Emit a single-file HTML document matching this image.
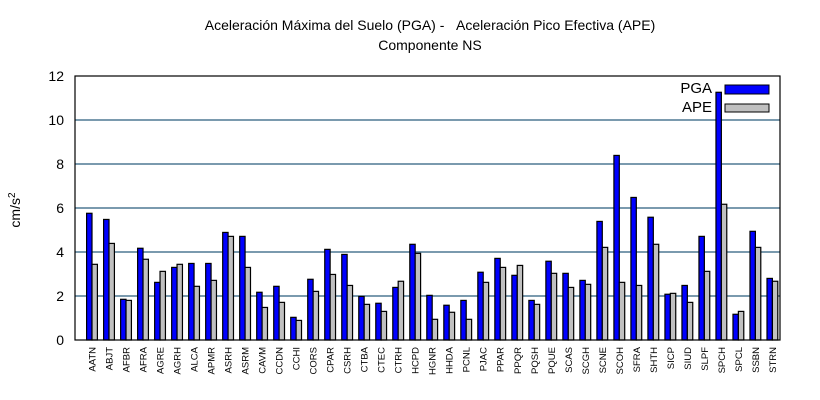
<!DOCTYPE html>
<html><head><meta charset="utf-8"><style>body{margin:0;background:#fff}svg{display:block}</style></head><body>
<svg width="820" height="400" xmlns="http://www.w3.org/2000/svg" font-family="Liberation Sans, sans-serif">
<rect width="820" height="400" fill="#fff"/>
<text x="430" y="30" font-size="14" text-anchor="middle">Aceleración Máxima del Suelo (PGA) - &#160;&#160;Aceleración Pico Efectiva (APE)</text>
<text x="430" y="50" font-size="14" text-anchor="middle">Componente NS</text>
<g stroke="#2b5d7d" stroke-width="1.3">
<line x1="75" x2="780" y1="296" y2="296"/><line x1="75" x2="780" y1="252" y2="252"/><line x1="75" x2="780" y1="208" y2="208"/><line x1="75" x2="780" y1="164" y2="164"/><line x1="75" x2="780" y1="120" y2="120"/>
</g>
<g font-size="14" text-anchor="end">
<text x="64" y="345">0</text><text x="64" y="301">2</text><text x="64" y="257">4</text><text x="64" y="213">6</text><text x="64" y="169">8</text><text x="64" y="125">10</text><text x="64" y="81">12</text>
</g>
<text transform="translate(20,210) rotate(-90)" font-size="14" text-anchor="middle">cm/s<tspan dy="-5" font-size="10">2</tspan></text>
<g id="bars" stroke="#000" stroke-width="1.2"></g>
<g id="labels" font-size="9.5" text-anchor="end"></g>
<rect x="75" y="76" width="705" height="264" fill="none" stroke="#000" stroke-width="1.2"/>
<text x="712" y="93" font-size="15" text-anchor="end">PGA</text>
<rect x="725" y="85" width="44" height="9" fill="#0000ff" stroke="#000"/>
<text x="712" y="112" font-size="15" text-anchor="end">APE</text>
<rect x="725" y="104" width="44" height="8" fill="#c0c0c0" stroke="#000"/>
<script>
var d=[["AATN",5.76,3.44],["ABJT",5.48,4.39],["AFBR",1.85,1.8],["AFRA",4.17,3.67],["AGRE",2.62,3.12],["AGRH",3.3,3.44],["ALCA",3.48,2.44],["APMR",3.48,2.71],["ASRH",4.89,4.71],["ASRM",4.71,3.3],["CAVM",2.17,1.48],["CCDN",2.44,1.71],["CCHI",1.03,0.89],["CORS",2.76,2.21],["CPAR",4.12,2.98],["CSRH",3.89,2.48],["CTBA",1.98,1.62],["CTEC",1.67,1.3],["CTRH",2.39,2.67],["HCPD",4.35,3.94],["HGNR",2.03,0.94],["HHDA",1.58,1.26],["PCNL",1.8,0.94],["PJAC",3.08,2.62],["PPAR",3.71,3.3],["PPQR",2.94,3.39],["PQSH",1.8,1.62],["PQUE",3.58,3.03],["SCAS",3.03,2.39],["SCGH",2.71,2.53],["SCNE",5.39,4.21],["SCOH",8.39,2.62],["SFRA",6.48,2.48],["SHTH",5.58,4.35],["SICP",2.08,2.12],["SIUD",2.48,1.71],["SLPF",4.71,3.12],["SPCH",11.26,6.17],["SPCL",1.17,1.3],["SSBN",4.94,4.21],["STRN",2.8,2.67]];
var ns="http://www.w3.org/2000/svg",b=document.getElementById("bars"),l=document.getElementById("labels");
d.forEach(function(r,i){var c=92+i*17.01;
[[r[1],c-5.4,"#0000ff"],[r[2],c,"#c0c0c0"]].forEach(function(q){var e=document.createElementNS(ns,"rect");var h=q[0]*22;e.setAttribute("x",q[1]);e.setAttribute("y",340-h);e.setAttribute("width",5.4);e.setAttribute("height",h);e.setAttribute("fill",q[2]);b.appendChild(e);});
var t=document.createElementNS(ns,"text");t.setAttribute("transform","translate("+(c+3.5)+",347) rotate(-90)");t.textContent=r[0];l.appendChild(t);});
</script>
</svg>
</body></html>
